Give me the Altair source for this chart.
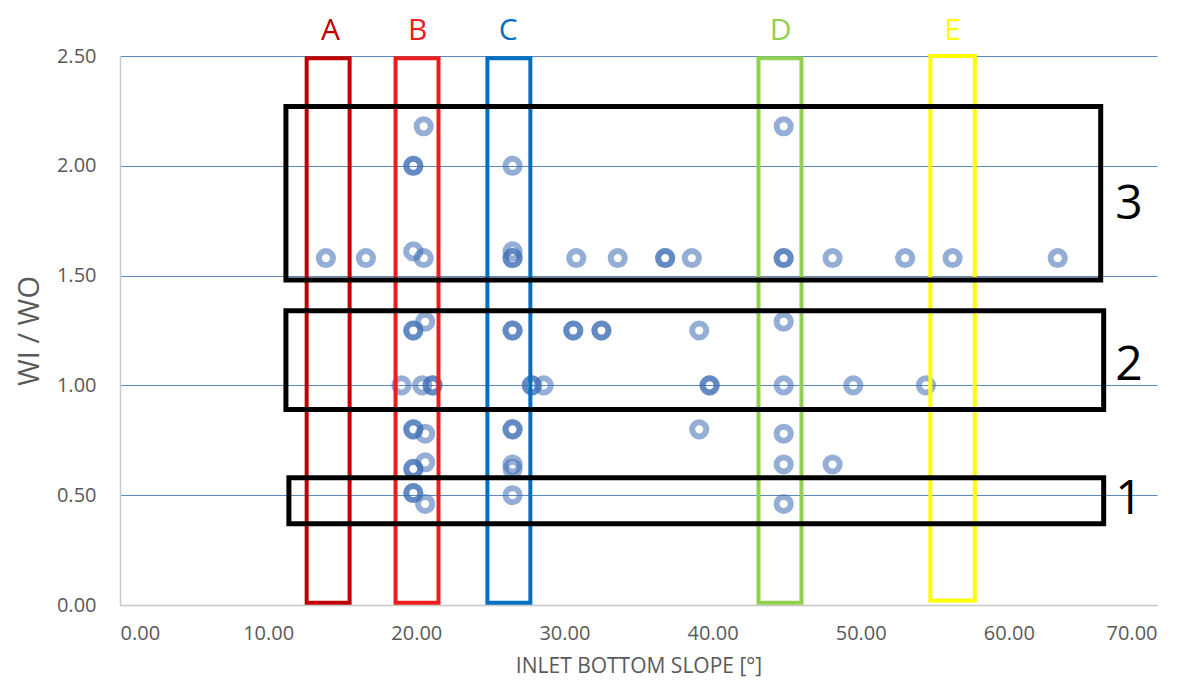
import altair as alt
import pandas as pd

# scatter data (inlet bottom slope in degrees, Wi/Wo)
slope = [13.9, 16.6, 20.5, 19.8, 26.5, 26.5, 26.5, 30.8, 33.6, 36.8, 36.8, 38.6,
         44.8, 44.8, 48.1, 53.0, 56.2, 63.3,
         20.5, 44.8, 19.8, 19.8, 26.5,
         19.8, 19.8, 20.6, 26.5, 26.5, 30.6, 30.6, 32.5, 32.5, 39.1, 44.8,
         19.0, 20.4, 21.1, 21.1, 27.8, 27.8, 28.6, 39.8, 39.8, 44.8, 49.5, 54.4,
         19.8, 19.8, 20.6, 26.5, 26.5, 39.1, 44.8,
         19.8, 19.8, 20.6, 26.5, 26.5, 44.8, 48.1,
         19.8, 19.8, 20.6, 26.5, 44.8]
ratio = [1.58, 1.58, 1.58, 1.61, 1.61, 1.58, 1.58, 1.58, 1.58, 1.58, 1.58, 1.58,
         1.58, 1.58, 1.58, 1.58, 1.58, 1.58,
         2.18, 2.18, 2.0, 2.0, 2.0,
         1.25, 1.25, 1.29, 1.25, 1.25, 1.25, 1.25, 1.25, 1.25, 1.25, 1.29,
         1.0, 1.0, 1.0, 1.0, 1.0, 1.0, 1.0, 1.0, 1.0, 1.0, 1.0, 1.0,
         0.80, 0.80, 0.78, 0.80, 0.80, 0.80, 0.78,
         0.62, 0.62, 0.65, 0.64, 0.62, 0.64, 0.64,
         0.51, 0.51, 0.46, 0.50, 0.46]

# annotation boxes
box_names = ["A", "B", "C", "D", "E", "3", "2", "1"]
box_x1 = [12.6, 18.6, 24.8, 43.1, 54.7, 11.2, 11.2, 11.4]
box_x2 = [15.5, 21.5, 27.7, 46.0, 57.7, 66.2, 66.4, 66.4]
box_y1 = [0.01, 0.01, 0.01, 0.01, 0.02, 1.48, 0.89, 0.37]
box_y2 = [2.49, 2.49, 2.49, 2.49, 2.50, 2.27, 1.34, 0.58]
box_colors = ["#c00000", "#ee1c1c", "#0070c0", "#92d050", "#ffff00", "#000000", "#000000", "#000000"]

# label positions
lab_x = [14.2, 20.1, 26.2, 44.6, 56.2, 68.1, 68.1, 68.1]
lab_y = [2.571, 2.571, 2.571, 2.571, 2.571, 1.82, 1.09, 0.48]

pts = pd.DataFrame({"slope": slope, "ratio": ratio})
boxes = pd.DataFrame({"name": box_names, "x1": box_x1, "x2": box_x2,
                      "y1": box_y1, "y2": box_y2, "lx": lab_x, "ly": lab_y})

xs = alt.Scale(domain=[0, 70], nice=False)
ys = alt.Scale(domain=[0, 2.5], nice=False)
col = alt.Scale(domain=box_names, range=box_colors)

font = "Open Sans"

points = alt.Chart(pts).mark_point(
    filled=False, shape="circle", size=200, strokeWidth=6,
    color="#3d6db5", opacity=0.55
).encode(
    x=alt.X("slope:Q", scale=xs, title="INLET BOTTOM SLOPE [°]",
            axis=alt.Axis(values=[0, 10, 20, 30, 40, 50, 60, 70], format=".2f",
                          grid=False, ticks=False, domainColor="#c8c8c8",
                          labelFontSize=20, labelColor="#595959", labelFont=font,
                          labelPadding=18, titleFontSize=21, titleColor="#595959",
                          titleFont=font, titleFontWeight="normal", titlePadding=12)),
    y=alt.Y("ratio:Q", scale=ys, title="WI / WO",
            axis=alt.Axis(values=[0, 0.5, 1.0, 1.5, 2.0, 2.5], format=".2f",
                          grid=True, gridColor="#5b87bd", gridWidth=1,
                          ticks=False, domainColor="#c8c8c8",
                          labelFontSize=20, labelColor="#595959", labelFont=font,
                          labelPadding=24, titleFontSize=29, titleColor="#595959",
                          titleFont=font, titleFontWeight="normal", titlePadding=12)),
)

rects_colored = alt.Chart(boxes.iloc[:5]).mark_rect(
    filled=False, strokeWidth=4
).encode(
    x=alt.X("x1:Q", scale=xs), x2="x2:Q",
    y=alt.Y("y1:Q", scale=ys), y2="y2:Q",
    stroke=alt.Stroke("name:N", scale=col, legend=None),
)

rects_black = alt.Chart(boxes.iloc[5:]).mark_rect(
    filled=False, strokeWidth=5
).encode(
    x=alt.X("x1:Q", scale=xs), x2="x2:Q",
    y=alt.Y("y1:Q", scale=ys), y2="y2:Q",
    stroke=alt.Stroke("name:N", scale=col, legend=None),
)

letter_labels = alt.Chart(boxes.iloc[:5]).mark_text(
    fontSize=30, font=font, baseline="alphabetic", align="center"
).encode(
    x=alt.X("lx:Q", scale=xs), y=alt.Y("ly:Q", scale=ys),
    text="name:N",
    color=alt.Color("name:N", scale=col, legend=None),
)

number_labels = alt.Chart(boxes.iloc[5:]).mark_text(
    fontSize=48, font=font, baseline="middle", align="center"
).encode(
    x=alt.X("lx:Q", scale=xs), y=alt.Y("ly:Q", scale=ys),
    text="name:N",
    color=alt.Color("name:N", scale=col, legend=None),
)

chart = alt.layer(points, rects_colored, rects_black, letter_labels, number_labels).properties(
    width=1037, height=549,
    autosize=alt.AutoSizeParams(type="none"),
    padding={"left": 112, "top": 48, "right": 20, "bottom": 84},
).configure_view(stroke=None).configure_axis(domainWidth=1.5)

chart.save("out.html", embed_options={"renderer": "svg", "actions": False})
